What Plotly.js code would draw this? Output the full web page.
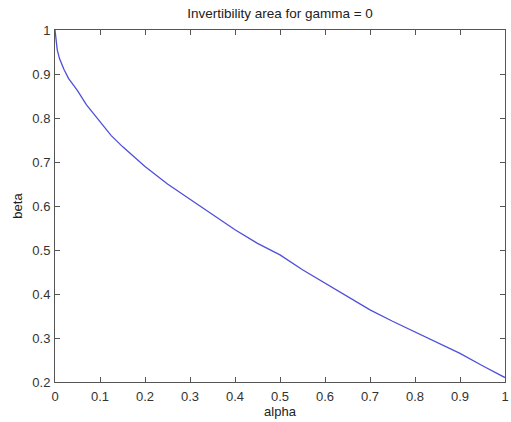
<!DOCTYPE html>
<html><head><meta charset="utf-8">
<script src="https://cdn.plot.ly/plotly-3.0.1.min.js"></script>
<style>body{margin:0;background:#fff}#plot{width:511px;height:422px}</style>
</head><body><div id="plot"></div>
<script>
var alpha = [0,0.002,0.005,0.01,0.02,0.03,0.05,0.07,0.1,0.125,0.15,0.175,0.2,0.25,0.3,0.35,0.4,0.45,0.5,0.55,0.6,0.65,0.7,0.75,0.8,0.85,0.9,0.95,1];
var beta  = [1,0.975,0.955,0.935,0.91,0.89,0.862,0.83,0.792,0.76,0.735,0.712,0.69,0.65,0.615,0.58,0.546,0.515,0.489,0.455,0.425,0.395,0.364,0.338,0.314,0.289,0.265,0.237,0.21];
var xTicks = [0,0.1,0.2,0.3,0.4,0.5,0.6,0.7,0.8,0.9,1];
var xTickText = ['0','0.1','0.2','0.3','0.4','0.5','0.6','0.7','0.8','0.9','1'];
var yTicks = [0.2,0.3,0.4,0.5,0.6,0.7,0.8,0.9,1];
var yTickText = ['0.2','0.3','0.4','0.5','0.6','0.7','0.8','0.9','1'];

var fam = 'Liberation Sans, Arial, sans-serif';
Plotly.newPlot('plot', [{
  x: alpha, y: beta, type:'scatter', mode:'lines',
  line:{color:'#4f4fd8', width:1.3}
}], {
  width:511, height:422,
  margin:{l:55, r:6, t:30, b:40},
  paper_bgcolor:'#fff', plot_bgcolor:'#fff',
  showlegend:false,
  font: {family:fam, size:13, color:'#222'},
  title:{text:'Invertibility area for gamma = 0', font:{family:fam, size:13.5, color:'#222'}, x:0.548, xanchor:'center', y:0.968, yanchor:'middle'},
  xaxis:{range:[0,1], tickvals:xTicks, ticktext:xTickText, ticks:'inside', ticklen:5, tickcolor:'#555',
    showline:true, linecolor:'#555', linewidth:1, mirror:'ticks', showgrid:false, zeroline:false,
    ticklabelstandoff:2,
    tickfont:{family:fam, size:13, color:'#333'},
    title:{text:'alpha', font:{family:fam, size:13, color:'#222'}, standoff:3}},
  yaxis:{range:[0.2,1], tickvals:yTicks, ticktext:yTickText, ticks:'inside', ticklen:5, tickcolor:'#555',
    showline:true, linecolor:'#555', linewidth:1, mirror:'ticks', showgrid:false, zeroline:false,
    ticklabelstandoff:1,
    tickfont:{family:fam, size:13, color:'#333'},
    title:{text:'beta', font:{family:fam, size:13, color:'#222'}, standoff:6}}
}, {displayModeBar:false, staticPlot:true});
</script></body></html>
